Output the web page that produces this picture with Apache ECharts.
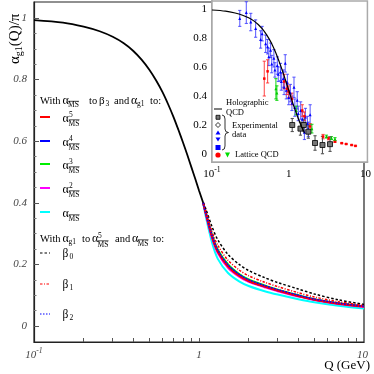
<!DOCTYPE html>
<html>
<head>
<meta charset="utf-8">
<script src="https://cdn.jsdelivr.net/npm/echarts@6/dist/echarts.min.js"></script>
<style>
html, body { margin: 0; padding: 0; background: #fff; }
#main { width: 374px; height: 374px; }
</style>
</head>
<body>
<div id="main"></div>
<script>
// ---- main plot: alpha_g1(Q)/pi vs Q (GeV) ----
var qLow = [0.1, 0.15, 0.2, 0.25, 0.3, 0.35, 0.4, 0.45, 0.5, 0.55, 0.6, 0.65, 0.7, 0.75, 0.8, 0.85, 0.9, 0.95, 1.0, 1.06];
var holographic = [0.993, 0.985, 0.972, 0.957, 0.939, 0.918, 0.893, 0.864, 0.832, 0.797, 0.76, 0.72, 0.679, 0.637, 0.596, 0.555, 0.515, 0.477, 0.44, 0.4];

var qHigh = [1.06, 1.1, 1.2, 1.3, 1.5, 1.75, 2, 2.5, 3, 4, 5, 7, 10];
var ms5 = [0.4, 0.365, 0.289, 0.241, 0.193, 0.163, 0.146, 0.128, 0.115, 0.097, 0.085, 0.072, 0.063];
var ms4 = [0.4, 0.366, 0.291, 0.243, 0.195, 0.165, 0.147, 0.129, 0.116, 0.098, 0.086, 0.073, 0.064];
var ms3 = [0.4, 0.368, 0.295, 0.248, 0.2, 0.169, 0.151, 0.132, 0.118, 0.1, 0.087, 0.074, 0.064];
var ms2 = [0.4, 0.363, 0.285, 0.237, 0.189, 0.16, 0.143, 0.126, 0.113, 0.096, 0.084, 0.071, 0.062];
var ms1 = [0.4, 0.355, 0.27, 0.218, 0.172, 0.145, 0.13, 0.113, 0.102, 0.087, 0.077, 0.066, 0.057];
var beta0 = [0.4, 0.38, 0.322, 0.28, 0.232, 0.2, 0.18, 0.157, 0.141, 0.12, 0.104, 0.085, 0.07];
var beta1 = [0.4, 0.374, 0.306, 0.262, 0.213, 0.182, 0.163, 0.142, 0.128, 0.108, 0.094, 0.079, 0.066];
var beta2 = [0.4, 0.367, 0.294, 0.246, 0.198, 0.168, 0.15, 0.131, 0.118, 0.1, 0.087, 0.074, 0.064];

var qTicks = [0.2, 0.3, 0.4, 0.5, 0.6, 0.7, 0.8, 0.9, 1, 2, 3, 4, 5, 6, 7, 8, 9];
var qLabels = [0.1, 1, 10];
var yLabels = [0, 0.2, 0.4, 0.6, 0.8, 1];
var yMinor = [0.05, 0.1, 0.15, 0.25, 0.3, 0.35, 0.45, 0.5, 0.55, 0.65, 0.7, 0.75, 0.85, 0.9, 0.95];

// ---- inset: data [Q, value, error] ----
var insetQ = [0.1, 0.15, 0.2, 0.25, 0.3, 0.35, 0.4, 0.45, 0.5, 0.55, 0.6, 0.65, 0.7, 0.75, 0.8, 0.85, 0.9, 0.95, 1.0, 1.1, 1.2, 1.4, 1.6];
var insetHolo = [0.993, 0.985, 0.972, 0.957, 0.939, 0.918, 0.893, 0.864, 0.832, 0.797, 0.76, 0.72, 0.679, 0.637, 0.596, 0.555, 0.515, 0.477, 0.44, 0.37, 0.31, 0.215, 0.145];
var blueData = [
  [0.23, 0.935, 0.055], [0.28, 0.975, 0.075], [0.32, 0.91, 0.06], [0.37, 0.865, 0.06],
  [0.43, 0.79, 0.06], [0.45, 0.83, 0.05], [0.5, 0.76, 0.06], [0.53, 0.74, 0.05],
  [0.55, 0.67, 0.06], [0.58, 0.715, 0.05], [0.6, 0.62, 0.06], [0.64, 0.66, 0.06],
  [0.66, 0.58, 0.05], [0.71, 0.61, 0.06], [0.73, 0.55, 0.05], [0.78, 0.565, 0.06],
  [0.8, 0.5, 0.06], [0.85, 0.52, 0.06], [0.87, 0.46, 0.05], [0.9, 0.625, 0.06],
  [0.93, 0.44, 0.06], [0.96, 0.49, 0.06], [1.0, 0.39, 0.05], [1.05, 0.42, 0.06],
  [1.1, 0.35, 0.05], [1.17, 0.46, 0.07], [1.2, 0.32, 0.06], [1.29, 0.37, 0.06],
  [1.33, 0.28, 0.05], [1.43, 0.3, 0.06], [1.5, 0.24, 0.05], [1.6, 0.15, 0.05],
  [1.65, 0.255, 0.06], [1.75, 0.21, 0.05], [1.8, 0.17, 0.05], [1.9, 0.27, 0.07]
];
var redData = [
  [0.48, 0.52, 0.12], [0.53, 0.57, 0.08], [0.87, 0.5, 0.05], [0.95, 0.45, 0.04],
  [1.0, 0.43, 0.04], [1.1, 0.38, 0.04], [1.5, 0.3, 0.04], [1.6, 0.26, 0.03],
  [1.9, 0.19, 0.02], [2.8, 0.12, 0.015], [3.3, 0.108, 0.01], [4.0, 0.085, 0.004],
  [4.9, 0.075, 0.003], [5.6, 0.069, 0.003], [6.6, 0.062, 0.003], [7.4, 0.056, 0.003]
];
var greenData = [
  [0.68, 0.45, 0.07], [0.7, 0.42, 0.05], [1.25, 0.3, 0.03], [2.0, 0.175, 0.03],
  [3.1, 0.12, 0.01], [3.6, 0.11, 0.01], [4.0, 0.103, 0.01]
];
var starData = [
  [1.11, 0.2, 0.045], [1.42, 0.175, 0.045], [1.57, 0.2, 0.04], [1.8, 0.154, 0.045],
  [2.2, 0.076, 0.05], [2.75, 0.062, 0.06], [3.45, 0.068, 0.05]
];

var F = 'Liberation Serif';
var lg = Math.log10;

function pairs(xs, ys) {
  return xs.map(function (q, i) { return [lg(q), ys[i]]; });
}
function logged(rows) {
  return rows.map(function (r) { return [lg(r[0]), r[1], r[2]]; });
}

function curve(data, color, width, dash, z) {
  return {
    type: 'line', xAxisIndex: 0, yAxisIndex: 0, data: data,
    showSymbol: false, smooth: 0.3, z: z,
    lineStyle: { color: color, width: width, type: dash || 'solid' },
    silent: true, animation: false
  };
}

function errBars(rows, color) {
  return {
    type: 'custom', xAxisIndex: 1, yAxisIndex: 2, data: logged(rows), z: 3,
    animation: false, silent: true,
    encode: { x: 0, y: 1 },
    renderItem: function (params, api) {
      var x = api.value(0), y = api.value(1), e = api.value(2);
      var p1 = api.coord([x, y + e]), p2 = api.coord([x, y - e]);
      var w = 1.6;
      var st = { stroke: color, lineWidth: 1.1 };
      return {
        type: 'group', children: [
          { type: 'line', shape: { x1: p1[0], y1: p1[1], x2: p2[0], y2: p2[1] }, style: st },
          { type: 'line', shape: { x1: p1[0] - w, y1: p1[1], x2: p1[0] + w, y2: p1[1] }, style: st },
          { type: 'line', shape: { x1: p2[0] - w, y1: p2[1], x2: p2[0] + w, y2: p2[1] }, style: st }
        ]
      };
    }
  };
}
function marks(rows, symbol, size, color, border) {
  return {
    type: 'scatter', xAxisIndex: 1, yAxisIndex: 2, data: logged(rows), z: 4,
    symbol: symbol, symbolSize: size, silent: true, animation: false,
    itemStyle: { color: color, borderColor: border || color, borderWidth: border ? 0.8 : 0, opacity: 1 }
  };
}

// legend / annotation helpers
function tx(x, y, s, size, color, extra) {
  var st = {
    text: s, fontFamily: F, fontSize: size, fill: color || '#000',
    align: 'left', verticalAlign: 'middle', textAlign: 'left', textVerticalAlign: 'middle'
  };
  if (extra) for (var k in extra) st[k] = extra[k];
  return { type: 'text', x: x, y: y, z: 50, style: st };
}
function hl(x1, x2, y, color, w, dash) {
  return { type: 'line', z: 50, shape: { x1: x1, y1: y, x2: x2, y2: y },
    style: { stroke: color || '#000', lineWidth: w || 0.7, lineDash: dash || null } };
}
function seg(x1, y1, x2, y2) {
  return { type: 'line', z: 50, shape: { x1: x1, y1: y1, x2: x2, y2: y2 }, style: { stroke: '#000', lineWidth: 0.8 } };
}
function bez(x1, y1, cx, cy, x2, y2) {
  return { type: 'bezierCurve', z: 50, shape: { x1: x1, y1: y1, cpx1: cx, cpy1: cy, x2: x2, y2: y2 },
    style: { stroke: '#000', lineWidth: 0.8, fill: null } };
}
function msBar(x, y) {
  return [tx(x, y, 'MS', 7.5), hl(x + 0.3, x + 11, y - 4.2, '#000', 0.7)];
}

var graphics = [];
function add(a) { graphics = graphics.concat(a); }

// y axis title
add({
  type: 'text', x: 15, y: 64, rotation: Math.PI / 2, z: 50,
  style: {
    text: '{a|α}{g|g1}{a|(Q)/π}', align: 'left', verticalAlign: 'middle',
    textAlign: 'left', textVerticalAlign: 'middle',
    rich: {
      a: { fontFamily: F, fontSize: 15, lineHeight: 18, fill: '#000', verticalAlign: 'middle' },
      g: { fontFamily: F, fontSize: 10, lineHeight: 10, fill: '#000', verticalAlign: 'bottom' }
    }
  }
});
// x axis title
add(tx(370, 366, 'Q (GeV)', 13, '#000', { align: 'right', textAlign: 'right' }));

// legend block 1
add([tx(40, 101, 'With', 10.5), tx(62.5, 101, 'α', 12)]);
add(msBar(68, 105.5));
add([tx(89, 101, 'to', 10.5), tx(99, 101, 'β', 11), tx(105.5, 104, '3', 7.5),
     tx(114, 101, 'and', 10.5), tx(131, 101, 'α', 12), tx(137, 104, 'g1', 7.5), tx(150, 101, 'to:', 10.5)]);
var legendRows = [
  { y: 117, color: '#ff0000', sup: '5' },
  { y: 141, color: '#0000ff', sup: '4' },
  { y: 164, color: '#00ee00', sup: '3' },
  { y: 188, color: '#ff00ff', sup: '2' },
  { y: 212, color: '#00ffff', sup: '' }
];
legendRows.forEach(function (r) {
  add(hl(40, 50, r.y, r.color, 2));
  add(tx(62.5, r.y + 1.5, 'α', 12));
  if (r.sup) add(tx(69, r.y - 2, r.sup, 7.5));
  add(msBar(68.5, r.y + 7));
});

// legend block 2
add([tx(40, 239, 'With', 10.5), tx(62.5, 239, 'α', 12), tx(68.5, 242, 'g1', 7.5),
     tx(82, 239, 'to', 10.5), tx(92, 239, 'α', 12), tx(98, 236, '5', 7.5)]);
add(msBar(97.5, 245));
add([tx(115, 239, 'and', 10.5), tx(132, 239, 'α', 12)]);
add(msBar(137.5, 244));
add(tx(153, 239, 'to:', 10.5));
var betaRows = [
  { y: 253, color: '#000000', sub: '0', dash: [2.5, 2] },
  { y: 284, color: '#ff0000', sub: '1', dash: [2.5, 1.5, 1, 1.5] },
  { y: 314, color: '#0000ff', sub: '2', dash: [1.5, 1.5] }
];
betaRows.forEach(function (r) {
  add(hl(40, 50, r.y, r.color, 1.2, r.dash));
  add(tx(62.5, r.y + 1, 'β', 11.5));
  add(tx(69.5, r.y + 4, r.sub, 7.5));
});

// inset legend
add(hl(214, 222, 109, '#000', 1));
add([tx(226, 103, 'Holographic', 8.5), tx(226, 112.5, 'QCD', 8.5)]);
add({ type: 'rect', z: 50, shape: { x: 216, y: 115.3, width: 4, height: 4 }, style: { fill: '#777', stroke: '#000', lineWidth: 0.8 } });
add({ type: 'polygon', z: 50, shape: { points: [[218, 122.5], [220.5, 125], [218, 127.5], [215.5, 125]] }, style: { fill: '#fff', stroke: '#000', lineWidth: 0.8 } });
add({ type: 'polygon', z: 50, shape: { points: [[218, 130.5], [220.5, 134.5], [215.5, 134.5]] }, style: { fill: '#0000ff' } });
add({ type: 'polygon', z: 50, shape: { points: [[218, 141.5], [220.5, 137.5], [215.5, 137.5]] }, style: { fill: '#0000ff' } });
add({ type: 'rect', z: 50, shape: { x: 215.5, y: 145, width: 5, height: 5 }, style: { fill: '#0000ff' } });
add({ type: 'circle', z: 50, shape: { cx: 218, cy: 155, r: 2.6 }, style: { fill: '#ff0000' } });
add({ type: 'polygon', z: 50, shape: { points: [[227.5, 157.5], [230, 152.5], [225, 152.5]] }, style: { fill: '#00dd00' } });
// curly brace
add([
  bez(222, 115, 225, 115, 225, 119), seg(225, 119, 225, 129),
  bez(225, 129, 225, 132.5, 228.5, 132.5), bez(228.5, 132.5, 225, 132.5, 225, 136),
  seg(225, 136, 225, 146), bez(225, 146, 225, 150, 222, 150)
]);
add([tx(232, 125.7, 'Experimental', 8.5), tx(232, 134.7, 'data', 8.5), tx(235, 155, 'Lattice QCD', 8.5)]);

function xFmt(v) {
  if (Math.abs(v + 1) < 1e-6) return '{b|10}{s|-1}';
  if (Math.abs(v) < 1e-6) return '{b|1}';
  return '{e|10}';
}
function xRich(size, color, italic, pad) {
  var base = { fontFamily: F, fontSize: size, color: color, fontStyle: italic ? 'italic' : 'normal', lineHeight: 14, verticalAlign: 'bottom' };
  return {
    b: base,
    e: Object.assign({}, base, { padding: [0, pad, 0, 0] }),
    s: { fontFamily: F, fontSize: size * 0.7, color: color, fontStyle: italic ? 'italic' : 'normal', lineHeight: 8, verticalAlign: 'top' }
  };
}
function yFmt(v) { return String(+(+v).toFixed(1)); }

var chart = echarts.init(document.getElementById('main'));
chart.setOption({
  animation: false,
  grid: [
    { left: 34, top: 2, right: 4, bottom: 32, show: true, borderColor: '#222', borderWidth: 1.2, backgroundColor: 'transparent' },
    { left: 212, top: 1, right: 4, bottom: 212, show: true, borderColor: '#aaa', borderWidth: 1.5, backgroundColor: '#fff', z: 1 }
  ],
  xAxis: [
    {
      gridIndex: 0, type: 'value', min: -1, max: 1, position: 'bottom',
      axisLine: { show: true, onZero: false, lineStyle: { color: '#222', width: 1.2 } },
      axisTick: { show: true, inside: true, length: 4, customValues: qTicks.map(lg), lineStyle: { color: '#555' } },
      axisLabel: { customValues: qLabels.map(lg), formatter: xFmt, margin: 5, rich: xRich(11, '#444', true, 3) },
      splitLine: { show: false }
    },
    {
      gridIndex: 1, type: 'value', min: -1, max: 1.025, position: 'bottom',
      axisLine: { show: true, onZero: false, lineStyle: { color: '#999', width: 1.8 } },
      axisTick: { show: true, inside: true, length: 3, customValues: qTicks.map(lg), lineStyle: { color: '#888' } },
      axisLabel: { customValues: qLabels.map(lg), formatter: xFmt, margin: 4, rich: xRich(11, '#000', false, 0) },
      splitLine: { show: false }
    }
  ],
  yAxis: [
    {
      gridIndex: 0, type: 'value', min: -0.052, max: 1.052, position: 'left',
      axisLine: { show: true, onZero: false, lineStyle: { color: '#222', width: 1.2 } },
      axisTick: { show: true, inside: true, length: 5, customValues: yLabels, lineStyle: { color: '#555' } },
      axisLabel: { customValues: yLabels, formatter: yFmt, margin: 7, fontFamily: F, fontStyle: 'italic', fontSize: 11, color: '#444' },
      splitLine: { show: false }
    },
    {
      gridIndex: 0, type: 'value', min: -0.052, max: 1.052, position: 'left', offset: 0,
      axisLine: { show: false, onZero: false },
      axisTick: { show: true, inside: true, length: 2.5, customValues: yMinor, lineStyle: { color: '#777' } },
      axisLabel: { show: false },
      splitLine: { show: false }
    },
    {
      gridIndex: 1, type: 'value', min: -0.055, max: 1.055, position: 'left',
      axisLine: { show: true, onZero: false, lineStyle: { color: '#999', width: 1.8 } },
      axisTick: { show: true, inside: true, length: 4, customValues: yLabels, lineStyle: { color: '#888' } },
      axisLabel: { customValues: yLabels, formatter: yFmt, margin: 5, fontFamily: F, fontSize: 11, color: '#000' },
      splitLine: { show: false }
    },
    {
      gridIndex: 1, type: 'value', min: -0.055, max: 1.055, position: 'left', offset: 0,
      axisLine: { show: false, onZero: false },
      axisTick: { show: true, inside: true, length: 2, customValues: yMinor, lineStyle: { color: '#aaa' } },
      axisLabel: { show: false },
      splitLine: { show: false }
    }
  ],
  series: [
    curve(pairs(qHigh, ms1), '#00ffff', 2, null, 2),
    curve(pairs(qHigh, ms3), '#00ee00', 2, null, 3),
    curve(pairs(qHigh, ms2), '#ff00ff', 2, null, 4),
    curve(pairs(qHigh, ms4), '#0000ff', 2, null, 5),
    curve(pairs(qHigh, ms5), '#ff0000', 2, null, 6),
    curve(pairs(qHigh, beta0), '#000000', 1.5, [2.5, 2], 7),
    curve(pairs(qHigh, beta1), '#ff0000', 1.5, [2.5, 1.5, 1, 1.5], 8),
    curve(pairs(qHigh, beta2), '#0000ff', 1.5, [1.5, 1.5], 9),
    curve(pairs(qLow, holographic), '#000000', 1.8, null, 10),
    {
      type: 'line', xAxisIndex: 1, yAxisIndex: 2, data: pairs(insetQ, insetHolo),
      showSymbol: false, smooth: 0.3, z: 5, silent: true,
      lineStyle: { color: '#000', width: 1.2 }
    },
    errBars(blueData, 'rgba(50,50,255,0.75)'),
    marks(blueData, 'triangle', 3, '#0000ff'),
    errBars(redData, 'rgba(255,40,40,0.8)'),
    marks(redData, 'rect', 2.5, '#ff0000'),
    errBars(greenData, 'rgba(0,210,0,0.85)'),
    marks(greenData, 'triangle', 3, '#00cc00'),
    errBars(starData, '#555555'),
    marks(starData, 'rect', 5, '#777777', '#000000')
  ],
  graphic: graphics
});
</script>
</body>
</html>
